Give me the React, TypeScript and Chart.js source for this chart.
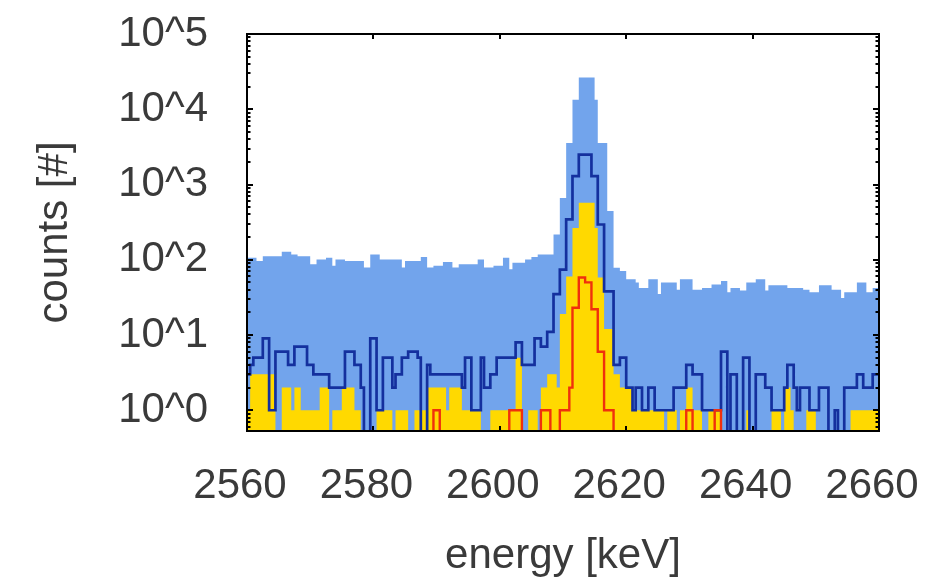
import React, { useEffect, useRef } from 'react';
import { Chart, registerables } from 'chart.js';

Chart.register(...registerables);

// ---- binning (0.5 keV bins from 2560 to 2660 keV) ----
const BIN_START = 2560;
const BIN_WIDTH = 0.5;

// ---- axis ticks ----
const X_TICKS = [2560, 2580, 2600, 2620, 2640, 2660];
const Y_TICKS = [1, 10, 100, 1000, 10000, 100000];
const Y_TICK_LABELS = ['10^0', '10^1', '10^2', '10^3', '10^4', '10^5'];
const Y_MIN = 0.53;
const Y_MAX = 100000;

// ---- counts per bin ----
// all events (light blue, filled)
const allEvents = [
  106, 106, 106, 96, 96, 111, 111, 111, 111, 111,
  111, 128, 128, 128, 117, 117, 111, 111, 111, 111,
  87, 87, 101, 101, 101, 106, 106, 83, 101, 101,
  101, 96, 96, 96, 96, 96, 96, 79, 79, 117,
  117, 117, 101, 101, 101, 101, 101, 101, 101, 79,
  96, 96, 96, 96, 96, 109, 109, 79, 79, 83,
  83, 83, 93, 93, 93, 79, 79, 87, 87, 87,
  87, 87, 87, 101, 101, 79, 79, 79, 83, 83,
  83, 106, 106, 75, 91, 91, 91, 91, 101, 101,
  109, 109, 117, 117, 117, 117, 117, 217, 217, 664,
  664, 3560, 3560, 13400, 13400, 26500, 26500, 26500, 26500, 26500,
  13400, 3560, 3560, 3560, 445, 445, 78, 78, 71, 71,
  55, 55, 55, 50, 42, 42, 42, 55, 55, 55,
  35, 50, 50, 50, 50, 50, 40, 55, 55, 55,
  55, 40, 40, 40, 42, 42, 42, 47, 47, 47,
  52, 52, 37, 42, 42, 42, 39, 39, 50, 50,
  50, 55, 55, 55, 39, 46, 46, 46, 46, 46,
  46, 42, 42, 42, 42, 42, 40, 40, 37, 37,
  37, 46, 46, 46, 46, 40, 40, 40, 31, 37,
  37, 37, 37, 50, 50, 50, 37, 37, 42, 42,
];

// first cut (dark blue outline)
const cutA = [
  3, 4, 5, 5, 5, 9, 9, 1, 1, 6,
  6, 6, 6, 4, 4, 7, 7, 7, 7, 4,
  4, 3, 3, 3, 3, 3, 2, 2, 2, 2,
  2, 6, 6, 6, 4, 4, 2, 0, 0, 9,
  9, 1, 1, 5, 5, 5, 2, 3, 3, 5,
  5, 6, 6, 6, 5, 0, 0, 4, 3, 3,
  3, 3, 3, 3, 3, 3, 3, 3, 2, 5,
  5, 1, 1, 1, 5, 2, 2, 3, 3, 5,
  5, 5, 5, 5, 5, 8, 8, 4, 4, 4,
  4, 9, 9, 7, 7, 11, 11, 35, 35, 74,
  74, 343, 343, 1290, 1290, 2490, 2490, 2490, 2490, 1290,
  1290, 294, 294, 38, 38, 38, 4, 4, 5, 5,
  2, 2, 1, 2, 2, 1, 1, 2, 2, 1,
  1, 1, 1, 1, 1, 2, 2, 2, 2, 4,
  4, 3, 3, 3, 1, 1, 1, 1, 1, 1,
  6, 6, 0, 3, 3, 0, 0, 5, 5, 0,
  0, 3, 3, 3, 2, 2, 1, 1, 1, 1,
  2, 4, 4, 2, 1, 2, 2, 2, 1, 1,
  1, 2, 2, 2, 0, 0, 1, 0, 0, 2,
  2, 2, 2, 3, 3, 2, 2, 2, 3, 3,
];

// second cut (yellow, filled)
const cutB = [
  1, 3, 3, 3, 3, 3, 3, 3, 3, 0,
  0, 2, 2, 2, 1, 2, 2, 1, 1, 1,
  1, 1, 1, 2, 2, 2, 0, 1, 1, 1,
  2, 2, 2, 2, 1, 1, 0, 0, 0, 0,
  0, 1, 1, 1, 1, 1, 0, 1, 1, 1,
  1, 0, 0, 1, 1, 1, 1, 2, 2, 2,
  2, 2, 2, 1, 2, 2, 2, 2, 1, 1,
  1, 1, 1, 1, 0, 0, 0, 1, 1, 1,
  1, 1, 1, 1, 1, 5, 5, 0, 0, 1,
  1, 1, 0, 2, 2, 3, 3, 3, 2, 19,
  19, 60, 60, 265, 265, 570, 570, 570, 570, 570,
  265, 58, 58, 12, 12, 12, 3, 3, 2, 2,
  2, 2, 1, 1, 1, 1, 1, 1, 1, 1,
  1, 1, 0, 1, 1, 1, 0, 1, 1, 2,
  2, 1, 1, 1, 0, 0, 1, 1, 1, 1,
  0, 0, 0, 0, 0, 0, 0, 0, 1, 0,
  0, 0, 0, 0, 0, 0, 1, 1, 1, 0,
  2, 2, 1, 0, 0, 0, 0, 1, 1, 1,
  0, 0, 0, 0, 0, 0, 0, 0, 0, 0,
  0, 1, 1, 1, 1, 1, 1, 1, 1, 1,
];

// third cut (red outline)
const cutC = [
  0, 0, 0, 0, 0, 0, 0, 0, 0, 0,
  0, 0, 0, 0, 0, 0, 0, 0, 0, 0,
  0, 0, 0, 0, 0, 0, 0, 0, 0, 0,
  0, 0, 0, 0, 0, 0, 0, 0, 0, 0,
  0, 0, 0, 0, 0, 0, 0, 0, 0, 0,
  0, 0, 0, 0, 0, 0, 0, 0, 0, 1,
  1, 0, 0, 0, 0, 0, 0, 0, 0, 0,
  0, 0, 0, 0, 0, 0, 0, 0, 0, 0,
  0, 0, 0, 1, 1, 1, 1, 0, 0, 0,
  0, 0, 0, 1, 1, 1, 0, 0, 0, 1,
  1, 1, 2, 23, 23, 58, 58, 50, 50, 22,
  22, 6, 6, 1, 1, 1, 0, 0, 0, 0,
  0, 0, 0, 0, 0, 0, 0, 0, 0, 0,
  0, 0, 0, 0, 0, 0, 0, 0, 0, 1,
  1, 0, 0, 0, 0, 0, 0, 0, 1, 1,
  0, 0, 0, 0, 0, 0, 0, 0, 0, 0,
  0, 0, 0, 0, 0, 0, 0, 0, 0, 0,
  0, 0, 0, 0, 0, 0, 0, 0, 0, 0,
  0, 0, 0, 0, 0, 0, 0, 0, 0, 0,
  0, 0, 0, 0, 0, 0, 0, 0, 0, 0,
];

// empty bins sit below the visible log range
const EMPTY_BIN_LEVEL = 0.1;

function histogramSteps(values: number[]) {
  const pts = values.map((v, i) => ({
    x: BIN_START + i * BIN_WIDTH,
    y: v > 0 ? v : EMPTY_BIN_LEVEL,
  }));
  const last = values[values.length - 1];
  pts.push({ x: BIN_START + values.length * BIN_WIDTH, y: last > 0 ? last : EMPTY_BIN_LEVEL });
  return pts;
}

const FONT_FAMILY = '"Liberation Sans", Arial, sans-serif';
const FONT_SIZE = 42;
const TEXT_COLOR = '#3a3a3a';

const framePlugin = {
  id: 'gnuplotFrame',
  afterDatasetsDraw(chart: any) {
    const { ctx, chartArea, scales } = chart;
    const { left, right, top, bottom } = chartArea;
    const xs = scales.x;
    const ys = scales.y;
    ctx.save();
    ctx.strokeStyle = '#000';
    ctx.lineWidth = 2;
    ctx.beginPath();
    X_TICKS.forEach((v) => {
      const px = Math.round(xs.getPixelForValue(v));
      ctx.moveTo(px, bottom);
      ctx.lineTo(px, bottom - 5);
      ctx.moveTo(px, top);
      ctx.lineTo(px, top + 5);
    });
    const lo = Math.floor(Math.log10(Y_MIN));
    for (let d = lo; d < Math.log10(Y_MAX); d++) {
      for (let m = 1; m <= 9; m++) {
        const v = m * Math.pow(10, d);
        if (v < Y_MIN || v > Y_MAX) continue;
        const py = Math.round(ys.getPixelForValue(v));
        const len = m === 1 ? 6 : 3.5;
        ctx.moveTo(left, py);
        ctx.lineTo(left + len, py);
        ctx.moveTo(right, py);
        ctx.lineTo(right - len, py);
      }
    }
    ctx.stroke();
    ctx.lineWidth = 2;
    ctx.strokeRect(left, top, right - left, bottom - top);
    ctx.restore();
  },
};

export default function App() {
  const canvasRef = useRef<HTMLCanvasElement | null>(null);

  useEffect(() => {
    document.body.style.margin = '0';
    const canvas = canvasRef.current;
    if (!canvas) return;
    const chart = new Chart(canvas, {
      type: 'line',
      data: {
        datasets: [
          {
            label: 'cut C',
            data: histogramSteps(cutC),
            stepped: 'before',
            borderColor: '#f0300c',
            borderWidth: 2.4,
            pointRadius: 0,
            fill: false,
            order: 0,
          },
          {
            label: 'cut A',
            data: histogramSteps(cutA),
            stepped: 'before',
            borderColor: '#14309e',
            borderWidth: 2.7,
            pointRadius: 0,
            fill: false,
            order: 1,
          },
          {
            label: 'cut B',
            data: histogramSteps(cutB),
            stepped: 'before',
            borderWidth: 0,
            borderColor: 'rgba(0,0,0,0)',
            backgroundColor: '#ffd900',
            pointRadius: 0,
            fill: 'start',
            order: 2,
          },
          {
            label: 'all',
            data: histogramSteps(allEvents),
            stepped: 'before',
            borderWidth: 0,
            borderColor: 'rgba(0,0,0,0)',
            backgroundColor: '#72a4ec',
            pointRadius: 0,
            fill: 'start',
            order: 3,
          },
        ] as any,
      },
      options: {
        animation: false,
        responsive: false,
        devicePixelRatio: 1,
        layout: { padding: { top: 34, right: 73, left: 0, bottom: 0 } },
        plugins: {
          legend: { display: false },
          tooltip: { enabled: false },
        },
        scales: {
          x: {
            type: 'linear',
            min: BIN_START,
            max: 2660,
            afterBuildTicks: (scale: any) => {
              scale.ticks = X_TICKS.map((v) => ({ value: v }));
            },
            afterFit: (scale: any) => {
              scale.height = 151;
              scale.paddingLeft = 0;
              scale.paddingRight = 0;
            },
            grid: { display: false, drawTicks: false },
            border: { display: false },
            ticks: {
              font: { family: FONT_FAMILY, size: FONT_SIZE },
              color: TEXT_COLOR,
              padding: 30,
              labelOffset: -7,
              maxRotation: 0,
              autoSkip: false,
              callback: (v: any) => String(v),
            },
            title: {
              display: true,
              text: 'energy [keV]',
              font: { family: FONT_FAMILY, size: FONT_SIZE },
              color: TEXT_COLOR,
              padding: { top: 0, bottom: 0 },
            },
          },
          y: {
            type: 'logarithmic',
            min: Y_MIN,
            max: Y_MAX,
            afterBuildTicks: (scale: any) => {
              scale.ticks = Y_TICKS.map((v) => ({ value: v }));
            },
            afterFit: (scale: any) => {
              scale.width = 247;
              scale.paddingTop = 0;
              scale.paddingBottom = 0;
            },
            grid: { display: false, drawTicks: false },
            border: { display: false },
            ticks: {
              font: { family: FONT_FAMILY, size: FONT_SIZE },
              color: TEXT_COLOR,
              padding: 39,
              autoSkip: false,
              callback: (v: any) => {
                const idx = Y_TICKS.indexOf(Number(v));
                return idx >= 0 ? Y_TICK_LABELS[idx] : '';
              },
            },
            title: {
              display: true,
              text: 'counts [#]',
              font: { family: FONT_FAMILY, size: FONT_SIZE },
              color: TEXT_COLOR,
              padding: { top: 30, bottom: 0 },
            },
          },
        },
      } as any,
      plugins: [framePlugin],
    });
    return () => chart.destroy();
  }, []);

  return (
    <div style={{ width: 952, height: 582, background: '#fff' }}>
      <canvas ref={canvasRef} width={952} height={582} style={{ display: 'block' }} />
    </div>
  );
}
